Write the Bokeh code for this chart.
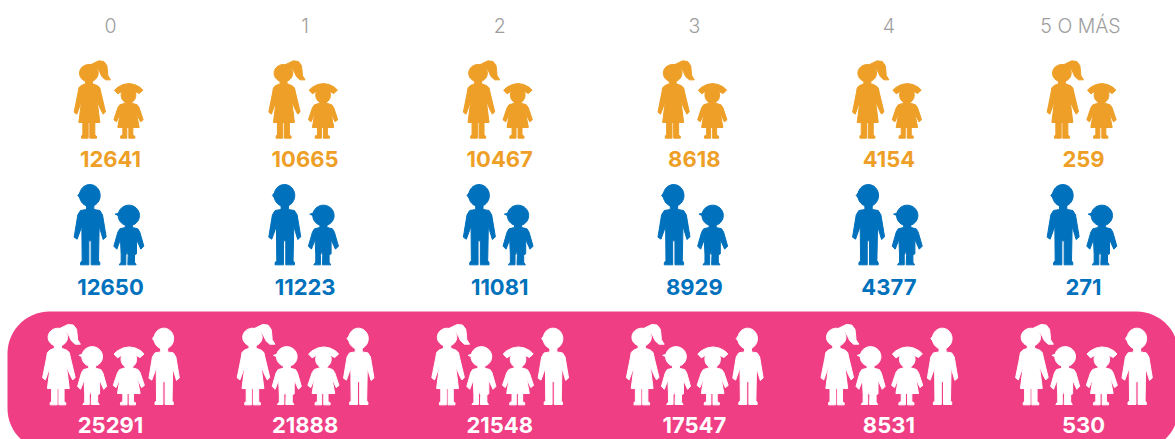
import numpy as np
from bokeh.plotting import figure
from bokeh.models import Range1d
from bokeh.core.properties import value
from bokeh.embed import file_html
from bokeh.resources import INLINE

categories = ["0", "1", "2", "3", "4", "5 O MÁS"]
girls = [12641, 10665, 10467, 8618, 4154, 259]
boys = [12650, 11223, 11081, 8929, 4377, 271]
totals = [25291, 21888, 21548, 17547, 8531, 530]

ORANGE, BLUE, PINK, GRAY = "#EE9F27", "#0071BC", "#F03E85", "#9E9E9E"
NUM_FONT = value("Inter")
HEAD_FONT = value("Inter Light")
CENTERS = [110 + 194.6 * i for i in range(6)]
HEAD_X = CENTERS[:5] + [1080]


def ell(cx, cy, rx, ry, n=40):
    t = np.linspace(0, 2 * np.pi, n, endpoint=False)
    return list(zip(cx + rx * np.cos(t), cy + ry * np.sin(t)))


# silhouettes: polygons in a 3x sketch space, each with its anchor (cx, foot)
GIRL = dict(anchor=(85, 262), parts=[
    ell(85, 68, 28, 26),
    [(88, 44), (100, 38), (115, 31), (130, 33), (139, 45), (141, 62), (142, 75), (150, 88), (135, 88), (124, 78),
     (118, 65), (112, 55), (104, 50)],
    [(75, 88), (95, 88), (96, 100), (110, 105), (118, 112), (122, 130), (135, 184), (128, 191), (122, 180), (110, 152),
     (118, 216), (55, 216), (63, 152), (49, 191), (41, 185), (52, 130), (55, 112), (62, 105), (75, 100)],
    [(67, 214), (83, 214), (83, 263), (63, 263), (63, 256), (67, 254)],
    [(88, 214), (103, 214), (103, 254), (108, 257), (108, 263), (88, 263)],
])
SMALL_GIRL = dict(anchor=(204, 262), parts=[
    ell(204, 134, 22, 24),
    [(162, 119), (172, 110), (188, 102), (205, 99), (222, 102), (238, 110), (247, 119), (236, 129), (226, 124),
     (204, 120), (182, 124), (172, 130)],
    [(195, 152), (213, 152), (214, 158), (230, 163), (236, 172), (248, 208), (240, 214), (228, 188), (236, 231),
     (172, 231), (179, 188), (168, 214), (160, 208), (172, 172), (178, 163), (194, 158)],
    [(187, 229), (199, 229), (199, 263), (180, 263), (181, 256), (187, 254)],
    [(205, 229), (217, 229), (217, 254), (223, 257), (223, 263), (205, 263)],
])
BOY = dict(anchor=(88, 268), parts=[
    ell(88, 60, 31, 33),
    [(58, 52), (52, 60), (62, 72), (70, 60)],
    [(78, 90), (100, 90), (100, 102), (118, 105), (126, 118), (137, 184), (128, 192), (116, 152), (114, 255),
     (118, 262), (118, 268), (92, 268), (92, 196), (85, 196), (85, 268), (60, 268), (60, 262), (65, 255), (64, 152),
     (50, 191), (41, 185), (52, 118), (60, 105), (78, 102)],
])
SMALL_BOY = dict(anchor=(205, 268), parts=[
    ell(205, 120, 32, 31),
    [(178, 112), (164, 116), (178, 122)],
    [(195, 148), (215, 148), (216, 156), (232, 160), (238, 170), (250, 212), (241, 221), (228, 192), (228, 235),
     (222, 238), (222, 260), (227, 268), (202, 268), (203, 240), (200, 226), (196, 240), (196, 268), (176, 268),
     (182, 260), (182, 238), (180, 192), (169, 221), (160, 212), (172, 170), (178, 160), (194, 156)],
])


def place(shape, ax, ay, s=1.0):
    """Outlines of a silhouette with its anchor at pixel (ax, ay)."""
    a, b = shape["anchor"]
    xs = [[ax + (x - a) / 3 * s for x, _ in part] for part in shape["parts"]]
    ys = [[ay + (y - b) / 3 * s for _, y in part] for part in shape["parts"]]
    return xs, ys


def rounded(x0, y0, x1, y1, r):
    pts = []
    for cx, cy, a0 in [(x1 - r, y0 + r, -90), (x1 - r, y1 - r, 0), (x0 + r, y1 - r, 90), (x0 + r, y0 + r, 180)]:
        for a in np.radians(np.linspace(a0, a0 + 90, 16)):
            pts.append((cx + r * np.cos(a), cy + r * np.sin(a)))
    return [q[0] for q in pts], [q[1] for q in pts]


p = figure(width=1175, height=439, x_range=Range1d(0, 1175), y_range=Range1d(439, 0),
           output_backend="svg", toolbar_location=None, min_border=0, outline_line_color=None)
p.axis.visible = False
p.grid.visible = False
p.background_fill_color = "white"
p.border_fill_color = "white"

bx, by = rounded(7, 311, 1178, 450, 42)
p.patch(bx, by, fill_color=PINK, line_color=None)


def draw(shape, ax, ay, color, s=1.0):
    xs, ys = place(shape, ax, ay, s)
    p.patches(xs, ys, fill_color=color, line_color=color, line_width=1, line_join="round")


for c in CENTERS:
    d = c - 110
    draw(GIRL, 60 + 85 / 3 + d, 50 + 262 / 3, ORANGE)
    draw(SMALL_GIRL, 60 + 204 / 3 + d, 50 + 262 / 3, ORANGE)
    draw(BOY, 60 + 88 / 3 + d, 175 + 268 / 3, BLUE)
    draw(SMALL_BOY, 60 + 205 / 3 + d, 175 + 268 / 3, BLUE)
    foot = 305 + 297 / 3
    draw(GIRL, 172 / 3 + d, foot, "white", 1.04)
    draw(SMALL_BOY, 275 / 3 + d, foot, "white", 0.97)
    draw(SMALL_GIRL, 385 / 3 + d, foot, "white", 1.06)
    draw(BOY, 490 / 3 + d, foot, "white", 0.95)

p.text(HEAD_X, [25] * 6, text=categories, text_font=HEAD_FONT, text_font_size="19.5px", text_color=GRAY,
       text_align="center", text_baseline="middle")
for vals, y, col in [(girls, 158, ORANGE), (boys, 286, BLUE), (totals, 424, "white")]:
    p.text(CENTERS, [y] * 6, text=[str(v) for v in vals], text_font=NUM_FONT, text_font_size="22px",
           text_font_style="bold", text_color=col, text_align="center", text_baseline="middle")

open("out.html", "w").write(file_html(p, INLINE))
